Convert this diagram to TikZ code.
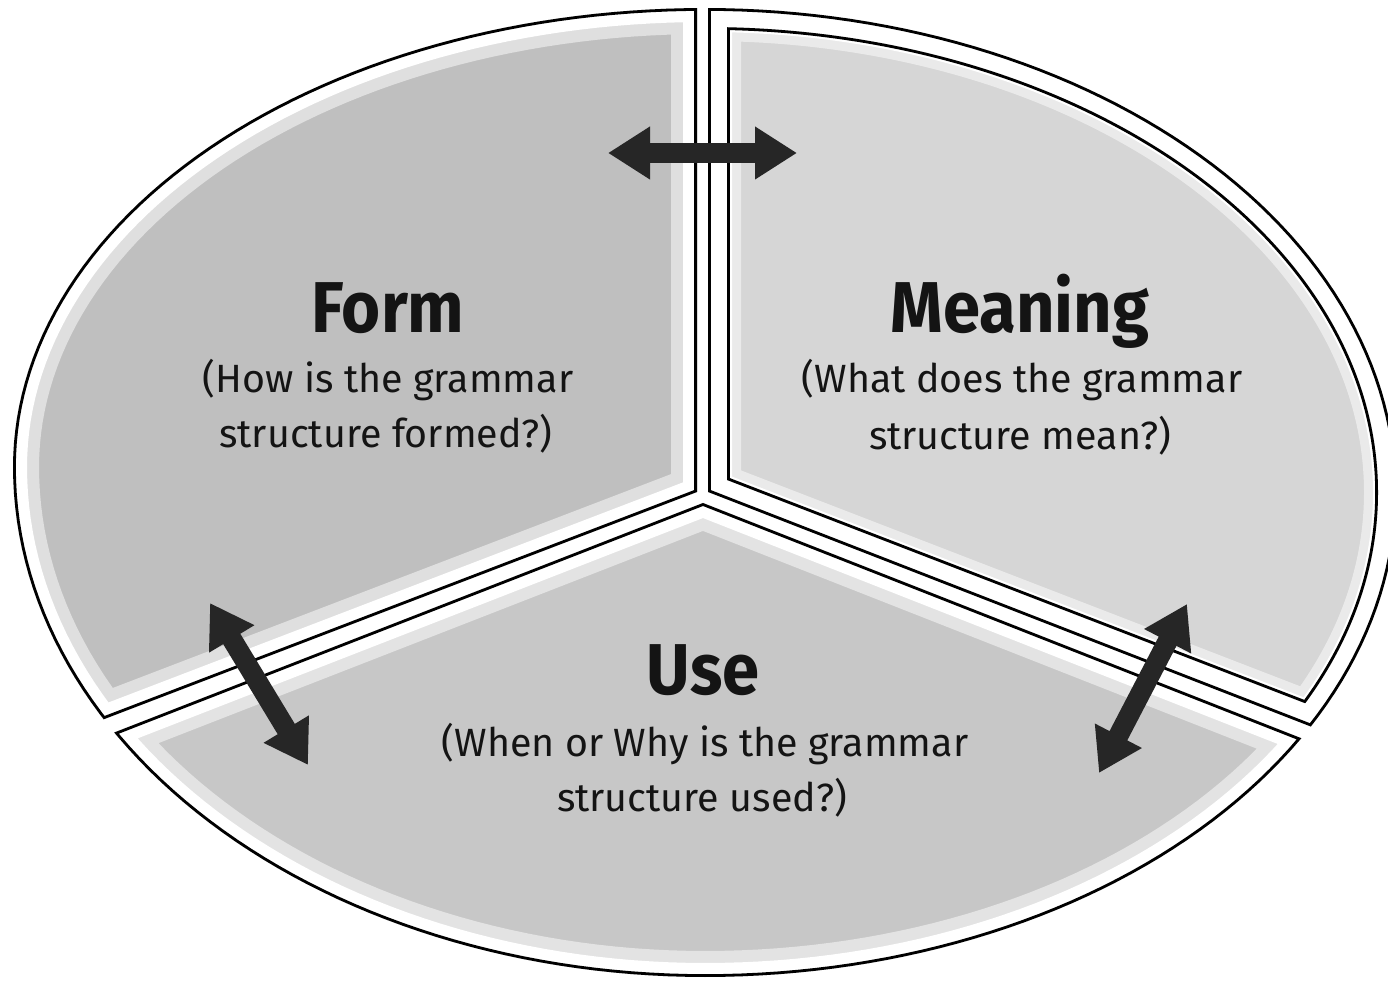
\documentclass[tikz,border=0pt]{standalone}
\usepackage{fontspec}
\setmainfont{Fira Sans}
\newfontfamily\titlefont[FakeStretch=0.93]{Fira Sans}
\usetikzlibrary{arrows.meta}
\definecolor{formfill}{gray}{0.75}
\definecolor{meanfill}{gray}{0.84}
\definecolor{usefill}{gray}{0.78}
\definecolor{arrowcol}{gray}{0.15}
\definecolor{ink}{gray}{0.08}
\def\outerpath{(705,8) -- plot[domain=270:360,samples=60,variable=\q] ({705+692*cos(\q)},{492.5+484.5*sin(\q)}) -- plot[domain=0:90,samples=60,variable=\q] ({705+692*cos(\q)},{492.5+484.5*sin(\q)}) -- plot[domain=90:180,samples=60,variable=\q] ({705+692*cos(\q)},{467+510*sin(\q)}) -- plot[domain=180:270,samples=60,variable=\q] ({705+692*cos(\q)},{467+459*sin(\q)}) -- cycle}
\def\innerpath{(705,492.5) ellipse [x radius=336.5pt, y radius=232.75pt]}
\def\formpoly{(697,492) -- (697,-60) -- (-60,-60) -- (-60,782) -- cycle}
\def\usepoly{(703,503) -- (-60,800.4) -- (-60,1060) -- (1460,1060) -- (1460,800.6) -- cycle}
\def\meanpoly{(708,492) -- (708,-60) -- (1460,-60) -- (1460,784.6) -- cycle}
\def\meaninpoly{(727,480) -- (727,-60) -- (1460,-60) -- (1460,763) -- cycle}
\begin{document}
\begin{tikzpicture}[x=0.5pt,y=-0.5pt,
  outline/.style={draw=black,line width=2.8pt},
  softedge/.style={draw=white,line width=26pt,opacity=0.5},
  hardedge/.style={draw=white,line width=14pt},
  dblarrow/.style={draw=arrowcol,line width=10pt,
    arrows={Triangle[length=21pt,width=25pt]-Triangle[length=21pt,width=25pt]}},
  title/.style={font=\titlefont\fontsize{36}{40}\selectfont\bfseries,text=ink,inner sep=0pt,anchor=base},
  sub/.style={font=\fontsize{19.7}{23}\selectfont,text=ink,inner sep=0pt,anchor=base}]
\useasboundingbox (0,0) rectangle (1388,983);
\fill[white] (0,0) rectangle (1388,983);
% Form sector
\begin{scope}
  \clip \outerpath;
  \clip \formpoly;
  \fill[formfill] (-60,-60) rectangle (1460,1060);
  \path[softedge] \outerpath \formpoly;
  \path[hardedge] \outerpath \formpoly;
  \path[outline] \outerpath \formpoly;
\end{scope}
% Use sector
\begin{scope}
  \clip \outerpath;
  \clip \usepoly;
  \fill[usefill] (-60,-60) rectangle (1460,1060);
  \path[softedge] \outerpath \usepoly;
  \path[hardedge] \outerpath \usepoly;
  \path[outline] \outerpath \usepoly;
\end{scope}
% Meaning sector, outer band
\begin{scope}
  \clip \outerpath;
  \clip \meanpoly;
  \fill[white] (-60,-60) rectangle (1460,1060);
  \path[outline] \outerpath \meanpoly;
\end{scope}
% Meaning sector, inner
\begin{scope}
  \clip \innerpath;
  \clip \meaninpoly;
  \fill[meanfill] (-60,-60) rectangle (1460,1060);
  \path[draw=white,line width=14pt,opacity=0.5] \innerpath \meaninpoly;
  \path[draw=white,line width=5pt] \innerpath \meaninpoly;
  \path[outline] \innerpath \meaninpoly;
\end{scope}
% arrows
\coordinate (ta) at (608,153);
\coordinate (tb) at (797,153);
\coordinate (la) at (210,603);
\coordinate (lb) at (308,765);
\coordinate (ra) at (1187,604);
\coordinate (rb) at (1099,773);
\draw[dblarrow] (ta) -- (tb);
\draw[dblarrow] (la) -- (lb);
\draw[dblarrow] (ra) -- (rb);
% texts
\node[title] (form) at (388,333) {Form};
\node[sub] (form1) at (388,393) {(How is the grammar};
\node[sub] (form2) at (386,448) {structure formed?)};
\node[title] (meaning) at (1020,333) {Meaning};
\node[sub] (mean1) at (1022,393) {(What does the grammar};
\node[sub] (mean2) at (1020,450) {structure mean?)};
\node[title] (use) at (703,695) {Use};
\node[sub] (use1) at (705,757) {(When or Why is the grammar};
\node[sub] (use2) at (702,812) {structure used?)};
\end{tikzpicture}
\end{document}
